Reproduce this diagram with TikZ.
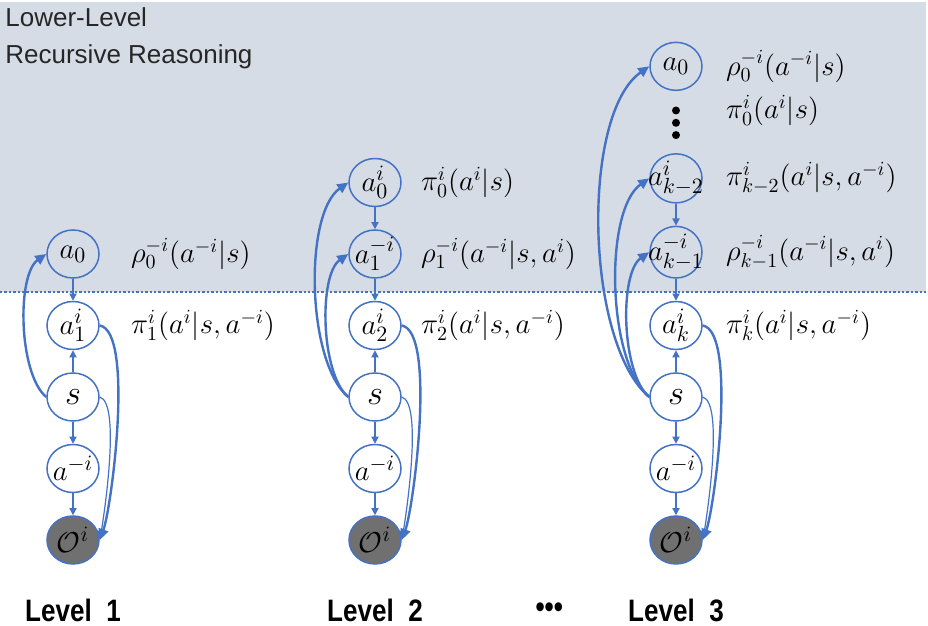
\documentclass[tikz,border=0pt]{standalone}
\usepackage{fontspec}
\setmainfont{Liberation Sans}
\newfontfamily\levelfont[FakeStretch=0.84]{Liberation Sans}
\usetikzlibrary{shapes.geometric, arrows.meta, positioning}
\definecolor{bgcol}{RGB}{214,220,229}
\definecolor{linkcol}{RGB}{68,114,196}
\definecolor{obscol}{RGB}{112,112,112}
\newcommand{\nt}[1]{\makebox[0pt]{$#1$}}

\begin{document}
\begin{tikzpicture}[x=0.5pt, y=-0.5pt, node distance=11pt,
  var/.style={draw=linkcol, line width=0.75pt, ellipse, minimum width=26pt, minimum height=24pt, inner sep=0pt, font=\fontsize{15}{17}\selectfont},
  state/.style={var, font=\fontsize{19}{21}\selectfont},
  obs/.style={var, fill=obscol},
  lbl/.style={inner sep=0pt, font=\fontsize{14}{16}\selectfont},
  link/.style={draw=linkcol, line width=0.7pt, -{Triangle[width=3.6pt,length=3.6pt]}},
  recur/.style={draw=linkcol, line width=1.2pt, -{Triangle[width=5pt,length=5.5pt]}, looseness=0.65},
  outflow/.style={recur, looseness=0.42},
  thinflow/.style={draw=linkcol, line width=0.6pt, -{Triangle[width=4pt,length=4.5pt]}, looseness=0.4},
  lvltext/.style={inner sep=0pt, font=\levelfont\bfseries\fontsize{15.5}{18}\selectfont},
  kdot/.style={circle, fill=black, inner sep=0pt, minimum size=4pt}]
\useasboundingbox (0,0) rectangle (928,626);

% lower-level band
\fill[bgcol] (0,2) rectangle (926,292);
\draw[linkcol, line width=1.1pt, dash pattern=on 1.2pt off 1pt] (0,292) -- (926,292);
\node[anchor=north west, align=left, inner sep=0pt, font=\fontsize{13}{18.5}\selectfont, text=black!85] (title) at (5,7) {Lower-Level\\Recursive Reasoning};

% Level 1
\node[state] (l1s) at (73,397) {\nt{s}};
\node[var, above=of l1s] (l1a1) {\nt{a^i_1}};
\node[var, above=of l1a1] (l1a0) {\nt{a_0}};
\node[var, below=of l1s] (l1am) {\nt{a^{-i}}};
\node[obs, below=of l1am] (l1o) {\nt{\mathcal{O}^i}};
\node[lbl, right=15.5pt of l1a0] (l1rho) {$\rho^{-i}_0(a^{-i}|s)$};
\node[lbl, right=15.5pt of l1a1] (l1pi) {$\pi^i_1(a^i|s,a^{-i})$};
\node[lvltext, below=17pt of l1o] (l1name) {Level~~1};

\draw[link] (l1a0) -- (l1a1);
\draw[link] (l1s) -- (l1a1);
\draw[link] (l1s) -- (l1am);
\draw[link] (l1am) -- (l1o);
\draw[recur] (l1s.west) to[out=140, in=215] (l1a0.west);
\draw[outflow] (l1a1.east) to[out=-10, in=70] (l1o.east);
\draw[thinflow] (l1s.east) to[out=-15, in=80] (l1o.east);

% Level 2
\node[state] (l2s) at (375,397) {\nt{s}};
\node[var, above=of l2s] (l2a2) {\nt{a^i_2}};
\node[var, above=of l2a2] (l2a1) {\nt{a^{-i}_1}};
\node[var, above=of l2a1] (l2a0) {\nt{a^i_0}};
\node[var, below=of l2s] (l2am) {\nt{a^{-i}}};
\node[obs, below=of l2am] (l2o) {\nt{\mathcal{O}^i}};
\node[lbl, right=9.5pt of l2a0] (l2pi0) {$\pi^i_0(a^i|s)$};
\node[lbl, right=9.5pt of l2a1] (l2rho) {$\rho^{-i}_1(a^{-i}|s,a^i)$};
\node[lbl, right=9.5pt of l2a2] (l2pi) {$\pi^i_2(a^i|s,a^{-i})$};
\node[lvltext, below=17pt of l2o] (l2name) {Level~~2};
\node[lvltext, right=56pt of l2name] (more) {•••};

\draw[link] (l2a0) -- (l2a1);
\draw[link] (l2a1) -- (l2a2);
\draw[link] (l2s) -- (l2a2);
\draw[link] (l2s) -- (l2am);
\draw[link] (l2am) -- (l2o);
\draw[recur] (l2s.west) to[out=140, in=215] (l2a0.west);
\draw[recur] (l2s.west) to[out=140, in=215] (l2a1.west);
\draw[outflow] (l2a2.east) to[out=-10, in=70] (l2o.east);
\draw[thinflow] (l2s.east) to[out=-15, in=80] (l2o.east);

% Level 3
\node[state] (l3s) at (676,397) {\nt{s}};
\node[var, above=of l3s] (l3ak) {\nt{a^i_k}};
\node[var, above=of l3ak] (l3ak1) {\nt{a^{-i}_{k-1}}};
\node[var, above=of l3ak1] (l3ak2) {\nt{a^i_{k-2}}};
\node[var, above=31pt of l3ak2] (l3a0) {\nt{a_0}};
\node[kdot, below=7.5pt of l3a0] (d1) {};
\node[kdot, below=1.75pt of d1] (d2) {};
\node[kdot, below=1.75pt of d2] (d3) {};
\node[var, below=of l3s] (l3am) {\nt{a^{-i}}};
\node[obs, below=of l3am] (l3o) {\nt{\mathcal{O}^i}};
\node[lbl, right=11.5pt of l3a0] (l3rho) {$\rho^{-i}_0(a^{-i}|s)$};
\node[lbl, anchor=west] (l3pi0) at (l3rho.west |- d1) {$\pi^i_0(a^i|s)$};
\node[lbl, right=11.5pt of l3ak2] (l3pik2) {$\pi^i_{k-2}(a^i|s,a^{-i})$};
\node[lbl, right=11.5pt of l3ak1] (l3rhok1) {$\rho^{-i}_{k-1}(a^{-i}|s,a^i)$};
\node[lbl, right=11.5pt of l3ak] (l3pik) {$\pi^i_k(a^i|s,a^{-i})$};
\node[lvltext, below=17pt of l3o] (l3name) {Level~~3};

\draw[link] (l3ak2) -- (l3ak1);
\draw[link] (l3ak1) -- (l3ak);
\draw[link] (l3s) -- (l3ak);
\draw[link] (l3s) -- (l3am);
\draw[link] (l3am) -- (l3o);
\draw[recur] (l3s.west) to[out=140, in=215] (l3a0.west);
\draw[recur] (l3s.west) to[out=140, in=215] (l3ak2.west);
\draw[recur] (l3s.west) to[out=140, in=215] (l3ak1.west);
\draw[outflow] (l3ak.east) to[out=-10, in=70] (l3o.east);
\draw[thinflow] (l3s.east) to[out=-15, in=80] (l3o.east);
\end{tikzpicture}
\end{document}
